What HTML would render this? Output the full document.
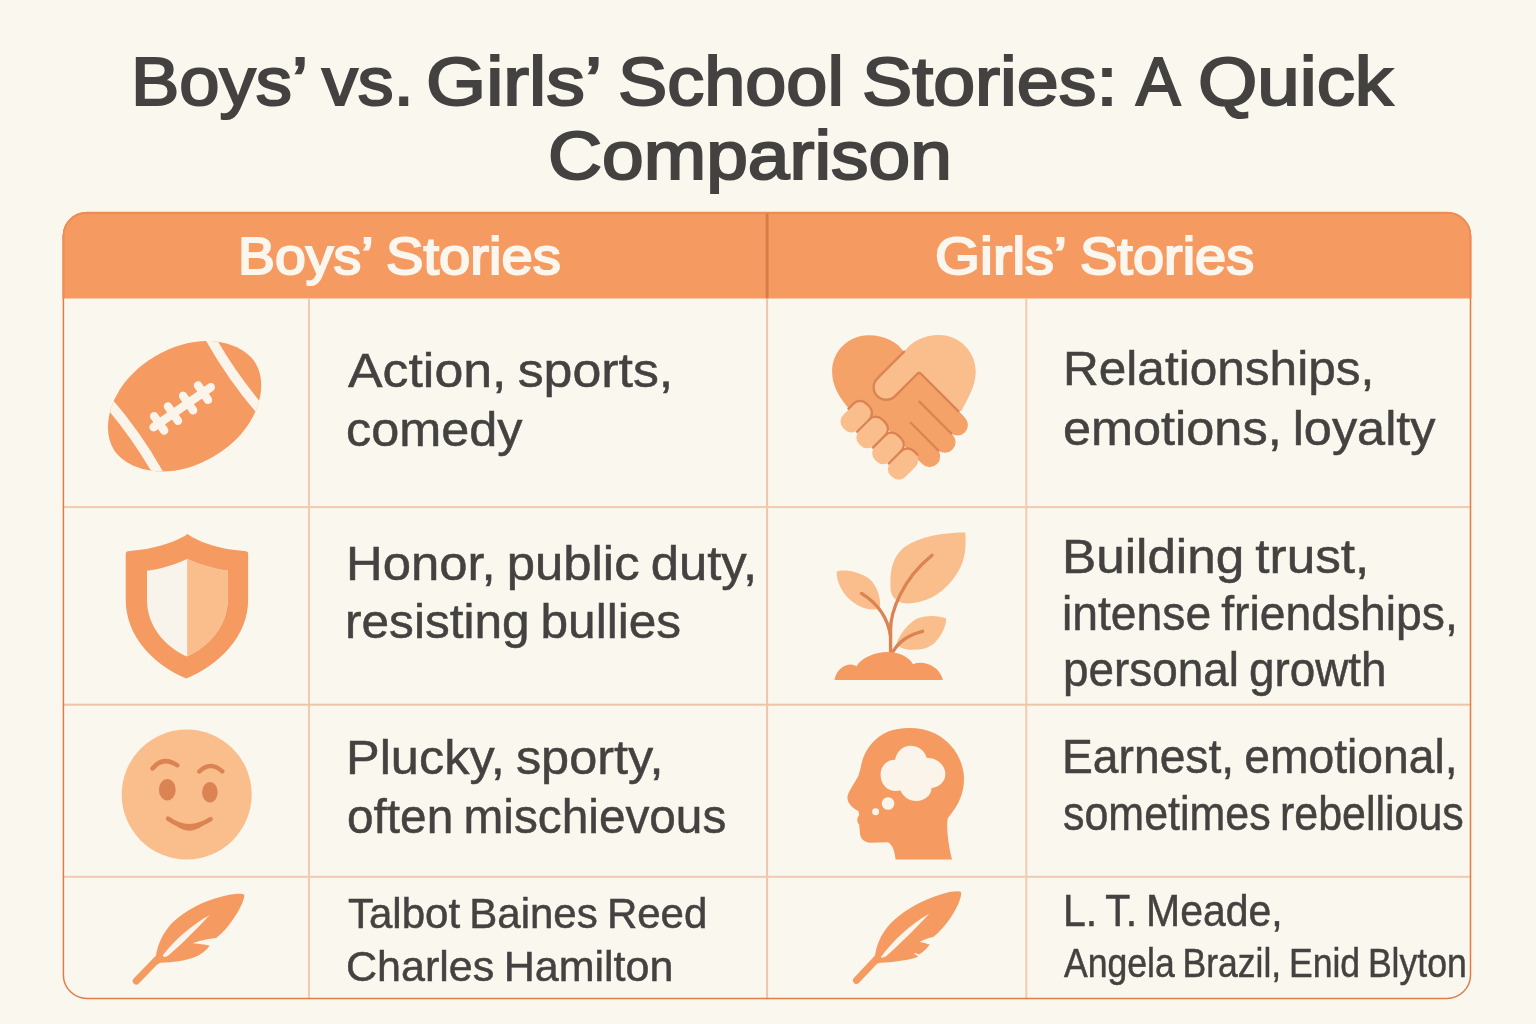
<!DOCTYPE html>
<html lang="en">
<head>
<meta charset="utf-8">
<title>Boys’ vs. Girls’ School Stories: A Quick Comparison</title>
<style>
html,body{margin:0;padding:0;background:#FAF7EE;}
body{width:1536px;height:1024px;overflow:hidden;position:relative;font-family:"Liberation Sans",sans-serif;color:#444240;}
.page{position:absolute;left:0;top:0;width:1536px;height:1024px;background:#FAF7EE;overflow:hidden;}
h1,h2,p{margin:0;padding:0;font-weight:inherit;font-size:inherit;}
.tt span,.th span,.tb span{position:absolute;white-space:nowrap;line-height:1;transform-origin:0 0;display:block;}
.tt{font-weight:400;color:#444240;-webkit-text-stroke:2.1px #444240;}
.th{font-weight:400;color:#FBF6EE;-webkit-text-stroke:2.0px #FBF6EE;}
.tb{font-weight:400;color:#444240;-webkit-text-stroke:0.5px #444240;}
.table{position:absolute;left:0;top:0;width:1536px;height:1024px;}
svg.frame{position:absolute;left:0;top:0;width:1536px;height:1024px;}
svg.icons{position:absolute;left:0;top:0;width:1536px;height:1024px;overflow:visible;}
</style>
</head>
<body>
<div class="page">
<div class="table">
<svg class="frame" viewBox="0 0 1536 1024" width="1536" height="1024">
  <defs><clipPath id="hdrclip"><rect x="50" y="200" width="1440" height="98.5"/></clipPath><clipPath id="tblclip"><rect x="62.65" y="211.9" width="1408.6" height="787.25" rx="24.2" ry="24.2"/></clipPath></defs>
  <g clip-path="url(#tblclip)">
    <rect x="60" y="210" width="1414" height="88.5" fill="#F59A61"/>
    <rect x="765.7" y="210" width="2.8" height="88.5" fill="#D97A48"/>
    <g fill="#F1CBB1">
      <rect x="308" y="298.5" width="2" height="702"/>
      <rect x="1025.3" y="298.5" width="2" height="702"/>
      <rect x="766.1" y="298.5" width="2" height="702" fill="#EFC4AA"/>
      <rect x="62" y="506.07" width="1410" height="2"/>
      <rect x="62" y="703.7" width="1410" height="2" fill="#EFC4A6"/>
      <rect x="62" y="875.8" width="1410" height="2"/>
    </g>
  </g>
  <rect x="63.4" y="212.65" width="1407.1" height="785.75" rx="23.5" ry="23.5" fill="none" stroke="#E27C45" stroke-width="1.5"/>
  <rect x="63.4" y="212.65" width="1407.1" height="785.75" rx="23.5" ry="23.5" fill="none" stroke="#EE8E56" stroke-width="1.7" clip-path="url(#hdrclip)"/>
</svg>
</div>
<h1 class="tt"><span style="left:131.1px;top:46.9px;font-size:69px;transform:scaleX(1.0491)">Boys’</span> <span style="left:321.5px;top:46.9px;font-size:69px;transform:scaleX(1.0393)">vs.</span> <span style="left:426.0px;top:46.9px;font-size:69px;transform:scaleX(1.1209)">Girls’</span> <span style="left:617.6px;top:46.9px;font-size:69px;transform:scaleX(1.0705)">School</span> <span style="left:861.7px;top:46.9px;font-size:69px;transform:scaleX(1.0915)">Stories:</span> <span style="left:1136.4px;top:46.9px;font-size:69px;transform:scaleX(0.9637)">A</span> <span style="left:1198.3px;top:46.9px;font-size:69px;transform:scaleX(1.1057)">Quick</span> <span style="left:547.8px;top:121.1px;font-size:69px;transform:scaleX(1.0856)">Comparison</span></h1>
<h2 class="th"><span style="left:237.8px;top:230.0px;font-size:52px;transform:scaleX(1.0652)">Boys’</span> <span style="left:386.0px;top:230.0px;font-size:52px;transform:scaleX(1.0797)">Stories</span></h2>
<h2 class="th"><span style="left:935.3px;top:230.3px;font-size:52px;transform:scaleX(1.1143)">Girls’</span> <span style="left:1080.1px;top:230.3px;font-size:52px;transform:scaleX(1.0766)">Stories</span></h2>
<p class="tb"><span style="left:348.0px;top:346.5px;font-size:48px;word-spacing:-0.06em;transform:scaleX(1.0796)">Action, sports,</span> <span style="left:346.2px;top:405.5px;font-size:48px;word-spacing:-0.06em;transform:scaleX(1.0500)">comedy</span></p>
<p class="tb"><span style="left:1062.5px;top:345.1px;font-size:48px;word-spacing:-0.06em;transform:scaleX(1.0323)">Relationships,</span> <span style="left:1062.9px;top:405.4px;font-size:48px;word-spacing:-0.06em;transform:scaleX(1.0507)">emotions, loyalty</span></p>
<p class="tb"><span style="left:346.1px;top:539.7px;font-size:48px;word-spacing:-0.06em;transform:scaleX(1.0587)">Honor, public duty,</span> <span style="left:345.3px;top:598.1px;font-size:48px;word-spacing:-0.06em;transform:scaleX(1.0332)">resisting bullies</span></p>
<p class="tb"><span style="left:1061.7px;top:532.5px;font-size:48px;word-spacing:-0.06em;transform:scaleX(1.0669)">Building trust,</span> <span style="left:1061.8px;top:589.7px;font-size:48px;word-spacing:-0.06em;transform:scaleX(0.9638)">intense friendships,</span> <span style="left:1062.7px;top:646.0px;font-size:48px;word-spacing:-0.06em;transform:scaleX(0.9553)">personal growth</span></p>
<p class="tb"><span style="left:346.1px;top:734.1px;font-size:48px;word-spacing:-0.06em;transform:scaleX(1.0512)">Plucky, sporty,</span> <span style="left:347.3px;top:792.9px;font-size:48px;word-spacing:-0.06em;transform:scaleX(0.9947)">often mischievous</span></p>
<p class="tb"><span style="left:1062.1px;top:732.5px;font-size:48px;word-spacing:-0.06em;transform:scaleX(0.9632)">Earnest, emotional,</span> <span style="left:1062.9px;top:790.4px;font-size:48px;word-spacing:-0.06em;transform:scaleX(0.8947)">sometimes rebellious</span></p>
<p class="tb"><span style="left:347.7px;top:892.1px;font-size:43px;word-spacing:-0.06em;transform:scaleX(0.9771)">Talbot Baines Reed</span> <span style="left:346.4px;top:944.6px;font-size:43px;word-spacing:-0.06em;transform:scaleX(1.0006)">Charles Hamilton</span></p>
<p class="tb"><span style="left:1062.5px;top:889.1px;font-size:44px;word-spacing:-0.06em;transform:scaleX(0.9308)">L. T. Meade,</span> <span style="left:1064.0px;top:942.5px;font-size:41px;word-spacing:-0.06em;transform:scaleX(0.8672)">Angela Brazil, Enid Blyton</span></p>
<svg class="icons" viewBox="0 0 1536 1024" width="1536" height="1024">
<defs>
  <clipPath id="ballclip"><path d="M -83,0 C -83,-26 -52,-58 0,-58 C 52,-58 83,-26 83,0 C 83,26 52,58 0,58 C -52,58 -83,26 -83,0 Z"/></clipPath>
</defs>

<!-- football -->
<g transform="translate(184.6,406.3) rotate(-31)">
  <path d="M -83,0 C -83,-26 -52,-58 0,-58 C 52,-58 83,-26 83,0 C 83,26 52,58 0,58 C -52,58 -83,26 -83,0 Z" fill="#F59A61"/>
  <g clip-path="url(#ballclip)" fill="none" stroke="#FAF4EA" stroke-width="10">
    <path d="M 57.5,-56 Q 55,-5 63.5,44"/>
    <path d="M -57.5,56 Q -55,5 -63.5,-44"/>
  </g>
</g>
<g stroke="#FAF4EA" stroke-width="8.4" stroke-linecap="round" fill="none">
  <path d="M 153.5,427.2 L 210.8,387.2"/>
  <path d="M 154.1,416.1 L 164.2,430.5"/>
  <path d="M 167.9,406.4 L 178.0,420.8"/>
  <path d="M 183.1,395.8 L 193.2,410.3"/>
  <path d="M 198.0,385.4 L 208.0,399.9"/>
</g>

<!-- shield -->
<g transform="translate(100,520) scale(0.16606)">
  <path d="M 528,85 C 600,140 740,180 880,188 Q 892,190 892,202 L 892,480 C 892,700 720,870 520,955 C 320,870 155,700 155,480 L 155,202 Q 155,190 167,188 C 300,180 450,140 528,85 Z" fill="#F59A61"/>
  <path d="M 525,235 C 600,270 690,295 770,305 L 770,480 C 765,640 660,760 522,822 C 390,760 283,640 283,480 L 283,305 C 370,295 450,270 525,235 Z" fill="#F8F4EB"/>
  <path d="M 525,235 C 600,270 690,295 770,305 L 770,480 C 765,640 660,760 525,821 Z" fill="#FABD8C"/>
</g>

<!-- smiley -->
<g>
  <circle cx="186.7" cy="794.5" r="65" fill="#FABD8C"/>
  <ellipse cx="167.3" cy="789.7" rx="8.4" ry="10.8" fill="#DB8352"/>
  <ellipse cx="209.9" cy="792.2" rx="7.8" ry="10.3" fill="#DB8352"/>
  <g fill="none" stroke="#DB8352" stroke-width="4.4" stroke-linecap="round">
    <path d="M 152.5,768.5 Q 163,755.5 177.3,765.3"/>
    <path d="M 199.3,771.5 Q 210.5,760.5 222.3,771.3"/>
    <path d="M 168,818.6 Q 188.5,833.4 210.6,819.2"/>
  </g>
  <path d="M 170,820 Q 188.5,841 209,820.5 Q 188.5,831 170,820 Z" fill="#DB8352"/>
</g>

<!-- feather left -->
<g transform="translate(110,880) scale(0.11723)">
  <path d="M 224,862 L 402,678" stroke="#F59A61" stroke-width="60" stroke-linecap="round" fill="none"/>
  <path d="M 385,690 C 395,600 420,500 500,400 C 600,280 800,170 1000,130 C 1060,118 1120,112 1145,125 C 1150,160 1110,250 1050,335 C 1010,395 960,455 905,495 C 850,500 770,515 705,540 C 760,545 810,550 850,560 C 820,600 780,635 720,660 C 640,690 540,705 430,705 L 400,720 Z" fill="#F59A61"/>
  <path d="M 452,640 C 550,510 700,380 852,298 C 750,405 615,545 500,642 C 480,660 445,662 452,640 Z" fill="#FAF4EA"/>
</g>

<!-- feather right -->
<g transform="translate(830,880) scale(0.11723)">
  <path d="M 226,856 L 398,674" stroke="#F59A61" stroke-width="60" stroke-linecap="round" fill="none"/>
  <path d="M 380,690 C 385,600 410,500 490,400 C 590,280 780,165 980,112 C 1040,97 1095,90 1118,102 C 1125,140 1090,230 1030,320 C 990,380 940,440 880,487 C 840,495 800,510 765,528 C 800,535 830,542 850,550 C 830,580 800,610 760,635 C 748,628 730,622 712,625 C 730,636 745,645 752,655 C 700,675 560,705 430,705 L 400,715 Z" fill="#F59A61"/>
  <path d="M 437,653 C 538,515 690,375 847,288 C 745,398 602,540 486,645 C 466,663 430,672 437,653 Z" fill="#FAF4EA"/>
</g>

<!-- heart / handshake -->
<g transform="translate(815,320) scale(0.16606)">
  <!-- right (light) lobe -->
  <path d="M 535,195 C 575,130 660,88 750,90 C 870,92 968,190 968,312 C 968,400 920,470 882,548 L 860,548 L 600,330 Z" fill="#FABD8C"/>
  <!-- left (dark) lobe -->
  <path d="M 540,200 C 500,130 410,90 320,92 C 200,94 103,190 103,310 C 103,400 150,470 205,535 L 400,600 L 560,330 Z" fill="#F5A268"/>
  <g transform="rotate(-45)">
    <!-- dark hand body + fingers -->
    <path d="M -150,480 L 100,480 L 222,600 L 222,1055 L -150,1055 Z" fill="#F5A268"/>
    <rect x="97" y="700" width="125" height="417" rx="62" fill="#F5A268"/>
    <rect x="-30" y="700" width="127" height="437" rx="63" fill="#F5A268"/>
    <rect x="-157" y="700" width="127" height="433" rx="63" fill="#F5A268"/>
    <g stroke="#DB8352" stroke-width="14" stroke-linecap="round" fill="none">
      <path d="M 97,792 L 97,1064"/>
      <path d="M -30,845 L -30,1082"/>
    </g>
    <!-- light thumb -->
    <rect x="-58" y="514" width="380" height="151" rx="75" fill="#FABD8C"/>
    <path d="M 245,514 L 17,514 A 75.5,75.5 0 0 0 17,665 L 205,665 Q 222,665 222,682 L 222,1000" stroke="#DB8352" stroke-width="14" stroke-linecap="round" stroke-linejoin="round" fill="none"/>
    <!-- light fingers -->
    <rect x="-340" y="525" width="198" height="125" rx="55" fill="#FABD8C"/>
    <rect x="-340" y="660" width="198" height="125" rx="55" fill="#FABD8C"/>
    <rect x="-340" y="795" width="198" height="125" rx="55" fill="#FABD8C"/>
    <rect x="-340" y="928" width="198" height="125" rx="55" fill="#FABD8C"/>
    <g stroke="#DB8352" stroke-width="14" stroke-linecap="round" fill="none">
      <path d="M -235,520 L -192,520 A 55,55 0 0 1 -137,575 L -137,600 A 55,55 0 0 1 -192,655 L -297,655"/>
      <path d="M -192,655 A 55,55 0 0 1 -137,710 L -137,735 A 55,55 0 0 1 -192,790 L -297,790"/>
      <path d="M -192,790 A 55,55 0 0 1 -137,845 L -137,870 A 55,55 0 0 1 -192,925 L -297,925"/>
      <path d="M -192,925 A 55,55 0 0 1 -137,980 L -137,1010"/>
    </g>
  </g>
</g>

<!-- plant -->
<g transform="translate(815,520) scale(0.16606)">
  <path d="M 500,490 C 470,470 452,440 455,400 C 450,300 470,230 520,180 C 570,130 700,75 905,75 C 915,200 890,270 850,330 C 800,410 720,470 640,490 C 590,505 540,510 500,490 Z" fill="#FABD8C"/>
  <path d="M 130,310 C 180,295 260,310 320,350 C 360,380 390,440 392,500 C 392,525 385,538 370,538 C 300,545 240,510 200,470 C 160,430 130,370 130,310 Z" fill="#FABD8C"/>
  <path d="M 490,745 C 510,690 560,620 620,592 C 680,570 750,575 790,593 C 790,640 760,700 720,740 C 690,765 650,780 610,780 C 560,785 510,775 490,745 Z" fill="#FABD8C"/>
  <g stroke="#DB8352" stroke-width="20" stroke-linecap="round" fill="none">
    <path d="M 455,800 L 455,660 C 455,560 520,360 705,212"/>
    <path d="M 455,700 C 440,600 390,510 280,442"/>
    <path d="M 468,795 C 500,740 560,690 648,670"/>
  </g>
  <path d="M 118,963 C 125,910 170,870 215,870 Q 235,870 250,880 C 280,830 360,795 440,795 C 510,795 565,825 590,868 Q 615,858 640,860 C 700,865 755,900 770,963 Z" fill="#F59A61"/>
</g>

<!-- head -->
<g transform="translate(815,710) scale(0.16606)">
  <path d="M 275,350 C 290,250 350,170 440,130 C 520,98 640,100 720,140 C 810,185 880,270 895,380 C 905,470 880,560 800,650 C 790,700 800,800 825,900 L 485,900 C 482,860 470,815 440,797 L 330,800 C 290,795 270,770 270,735 L 266,690 C 250,675 252,650 266,632 L 262,610 C 225,590 195,560 195,525 C 200,490 240,440 262,395 Z" fill="#F59A61"/>
  <path d="M 395,390 C 395,340 430,300 482,300 C 490,250 530,215 575,215 C 625,215 662,245 672,288 C 740,290 785,335 785,385 C 785,430 750,465 702,470 C 700,515 660,548 610,548 C 565,548 528,520 515,485 C 440,500 395,450 395,390 Z" fill="#FAF4EA"/>
  <circle cx="440" cy="563" r="38" fill="#FAF4EA"/>
  <circle cx="365" cy="613" r="21" fill="#FAF4EA"/>
</g>
</svg>

</div>
</body>
</html>
